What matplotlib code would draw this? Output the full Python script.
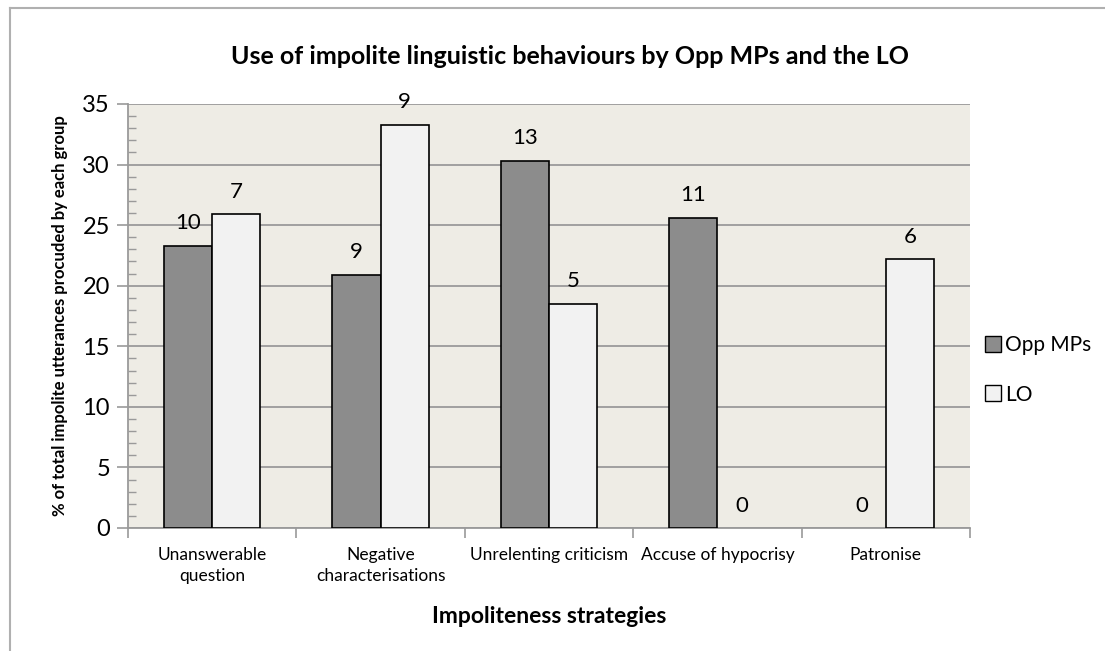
import numpy as np
import matplotlib.pyplot as plt
from matplotlib.lines import Line2D
from matplotlib.ticker import MultipleLocator
from matplotlib.patches import Patch

plt.rcParams['font.family'] = ['Lato', 'DejaVu Sans']

# data
categories = ["Unanswerable\nquestion", "Negative\ncharacterisations",
              "Unrelenting criticism", "Accuse of hypocrisy", "Patronise"]
opp_mps = [23.3, 20.9, 30.3, 25.6, 0.0]
lo = [25.9, 33.3, 18.5, 0.0, 22.2]
opp_counts = ["10", "9", "13", "11", "0"]
lo_counts = ["7", "9", "5", "0", "6"]

W, H = 1105, 651
fig = plt.figure(figsize=(W / 100, H / 100), dpi=100)
ax = fig.add_axes([128 / W, 1 - 528 / H, (970 - 128) / W, (528 - 104) / H])

x = np.arange(len(categories))
bw = 1 / 3.5
b1 = ax.bar(x - bw / 2, opp_mps, bw, color='#8c8c8c', edgecolor='black', linewidth=1.2,
            label='Opp MPs', zorder=3)
b2 = ax.bar(x + bw / 2, lo, bw, color='#f2f2f2', edgecolor='black', linewidth=1.2,
            label='LO', zorder=3)

for bars, labels in ((b1, opp_counts), (b2, lo_counts)):
    for r, t in zip(bars, labels):
        if r.get_height() == 0:
            r.set_linewidth(0)  # no flat outline for empty bars
        ax.annotate(t, (r.get_x() + r.get_width() / 2, r.get_height()),
                    xytext=(0, 9), textcoords='offset points',
                    ha='center', va='bottom', fontsize=16)

ax.set_xlim(-0.5, len(categories) - 0.5)
ax.set_ylim(0, 35)
ax.set_facecolor('#eeece5')
ax.yaxis.set_major_locator(MultipleLocator(5))
ax.yaxis.set_minor_locator(MultipleLocator(1))
ax.grid(axis='y', color='#9a9a9a', linewidth=1.3, zorder=0)
ax.set_axisbelow(True)
for s in ('top', 'right'):
    ax.spines[s].set_visible(False)
for s in ('left', 'bottom'):
    ax.spines[s].set_color('#9a9a9a')
    ax.spines[s].set_linewidth(1.3)

ax.set_xticks(np.arange(len(categories) + 1) - 0.5)
ax.set_xticklabels([])
ax.set_xticks(x, minor=True)
ax.set_xticklabels(categories, minor=True, fontsize=12.5, linespacing=1.35)
ax.tick_params(axis='x', which='major', length=7, color='#9a9a9a', width=1.2)
ax.tick_params(axis='x', which='minor', length=0, pad=14)
ax.tick_params(axis='y', which='major', length=8, color='#9a9a9a', width=1.2,
               labelsize=17, pad=5)
ax.tick_params(axis='y', which='minor', direction='in', length=6, color='#9a9a9a', width=1.0)

ax.set_xlabel("Impoliteness strategies", fontsize=16.5, fontweight='bold', labelpad=16)
ax.set_ylabel("% of total impolite utterances procuded by each group", fontsize=12,
              fontweight='bold', labelpad=10)
fig.text(570 / W, 1 - 57 / H, "Use of impolite linguistic behaviours by Opp MPs and the LO",
         ha='center', va='center', fontsize=18, fontweight='bold')

handles = [Patch(facecolor='#8c8c8c', edgecolor='black', label='Opp MPs'),
           Patch(facecolor='#f2f2f2', edgecolor='black', label='LO')]
fig.legend(handles=handles, loc='center left', bbox_to_anchor=(972 / W, 1 - 370 / H),
           frameon=False, fontsize=15, handlelength=0.8, handleheight=0.8,
           handletextpad=0.2, labelspacing=1.4, borderaxespad=0.2)

# chart border (top and left edges visible)
fig.add_artist(Line2D([10 / W, 1.0], [1 - 8 / H, 1 - 8 / H], color='#b0b0b0', linewidth=1.5))
fig.add_artist(Line2D([10 / W, 10 / W], [0, 1 - 8 / H], color='#b0b0b0', linewidth=1.5))

fig.savefig('out.png', dpi=100)
